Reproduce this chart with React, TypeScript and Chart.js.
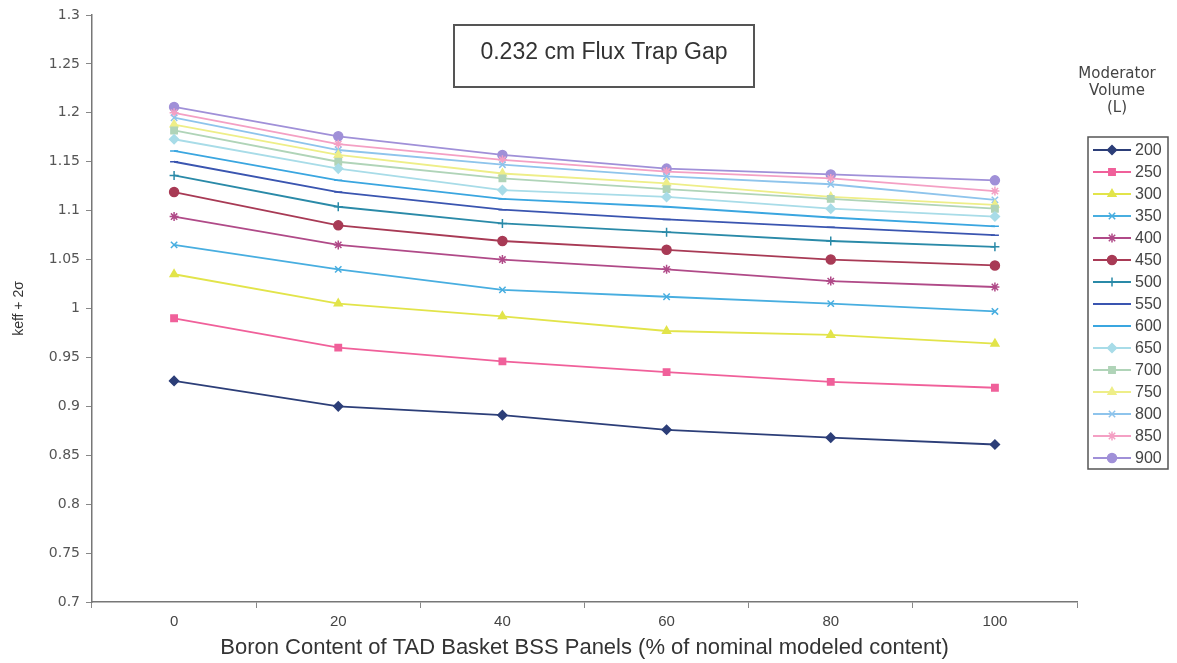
import React, { useEffect, useRef } from 'react';
import { Chart, registerables } from 'chart.js';
import { drawPoint } from 'chart.js/helpers';

Chart.register(...registerables);

// ---- data ----
const categories = ['0', '20', '40', '60', '80', '100'];
const seriesNames = ['200', '250', '300', '350', '400', '450', '500', '550', '600', '650', '700', '750', '800', '850', '900'];
const v200 = [0.926, 0.900, 0.891, 0.876, 0.868, 0.861];
const v250 = [0.990, 0.960, 0.946, 0.935, 0.925, 0.919];
const v300 = [1.035, 1.005, 0.992, 0.977, 0.973, 0.964];
const v350 = [1.065, 1.040, 1.019, 1.012, 1.005, 0.997];
const v400 = [1.094, 1.065, 1.050, 1.040, 1.028, 1.022];
const v450 = [1.119, 1.085, 1.069, 1.060, 1.050, 1.044];
const v500 = [1.136, 1.104, 1.087, 1.078, 1.069, 1.063];
const v550 = [1.150, 1.119, 1.101, 1.091, 1.083, 1.075];
const v600 = [1.161, 1.131, 1.112, 1.104, 1.093, 1.084];
const v650 = [1.173, 1.143, 1.121, 1.114, 1.102, 1.094];
const v700 = [1.182, 1.150, 1.133, 1.122, 1.112, 1.102];
const v750 = [1.188, 1.157, 1.138, 1.128, 1.114, 1.106];
const v800 = [1.195, 1.162, 1.147, 1.135, 1.127, 1.111];
const v850 = [1.200, 1.168, 1.152, 1.140, 1.133, 1.120];
const v900 = [1.206, 1.176, 1.157, 1.143, 1.137, 1.131];
const seriesValues = [v200, v250, v300, v350, v400, v450, v500, v550, v600, v650, v700, v750, v800, v850, v900];

const colors = ['#2c3e78', '#f0609a', '#e2e44a', '#48aee0', '#b04a88', '#a83a55', '#2a8aa8', '#3a55b0', '#3aa6e0', '#a8dce8', '#b0d4b8', '#eeee88', '#8ec4ec', '#f4a0c4', '#a090d8'];
const markers = ['rectRot', 'rect', 'triangle', 'crossRot', 'star', 'circle', 'cross', 'line', 'line', 'rectRot', 'rect', 'triangle', 'crossRot', 'star', 'circle'];

const chartTitle = '0.232 cm Flux Trap Gap';
const xTitle = 'Boron Content of TAD Basket BSS Panels (% of nominal modeled content)';
const yTitle = 'keff + 2σ';
const legendTitle = ['Moderator', 'Volume', '(L)'];

const FONT = "'Liberation Sans', Arial, sans-serif";
const WIDE = "'DejaVu Sans', 'Liberation Sans', sans-serif";

const overlayPlugin = {
  id: 'overlay',
  afterDraw(chart: any) {
    const ctx = chart.ctx as CanvasRenderingContext2D;
    ctx.save();
    // Title box
    ctx.fillStyle = '#ffffff';
    ctx.fillRect(454, 25, 300, 62);
    ctx.strokeStyle = '#555';
    ctx.lineWidth = 2;
    ctx.strokeRect(454, 25, 300, 62);
    ctx.fillStyle = '#333';
    ctx.font = `23px ${FONT}`;
    ctx.textAlign = 'center';
    ctx.textBaseline = 'middle';
    ctx.fillText(chartTitle, 604, 53);

    // Legend title
    ctx.fillStyle = '#444';
    ctx.font = `15px ${WIDE}`;
    legendTitle.forEach((t, i) => ctx.fillText(t, 1117, 74 + i * 17));

    // Legend box
    const bx = 1088, by = 137, bw = 80, bh = 332;
    ctx.strokeStyle = '#555';
    ctx.lineWidth = 1.5;
    ctx.strokeRect(bx, by, bw, bh);
    chart.data.datasets.forEach((ds: any, i: number) => {
      const y = 150 + i * 22;
      ctx.strokeStyle = ds.borderColor;
      ctx.fillStyle = ds.borderColor;
      ctx.lineWidth = 1.8;
      ctx.beginPath();
      ctx.moveTo(1093, y);
      ctx.lineTo(1131, y);
      ctx.stroke();
      ctx.lineWidth = 1.5;
      drawPoint(ctx, { pointStyle: ds.pointStyle, radius: ds.pointRadius, rotation: 0, borderWidth: 1.5 } as any, 1112, y);
      ctx.fillStyle = '#444';
      ctx.font = `16px ${FONT}`;
      ctx.textAlign = 'left';
      ctx.textBaseline = 'middle';
      ctx.fillText(ds.label, 1135, y + 1);
    });
    ctx.restore();
  },
};

export default function App() {
  const ref = useRef<HTMLCanvasElement | null>(null);
  useEffect(() => {
    if (!ref.current) return;
    const datasets = seriesNames.map((name, i) => ({
      label: name,
      data: seriesValues[i],
      borderColor: colors[i],
      backgroundColor: colors[i],
      pointBackgroundColor: colors[i],
      pointBorderColor: colors[i],
      pointStyle: markers[i],
      pointRadius: markers[i] === 'line' ? 4 : 4.5,
      pointBorderWidth: 1.5,
      borderWidth: 1.8,
      tension: 0,
      fill: false,
    }));
    const chart = new Chart(ref.current, {
      type: 'line',
      data: { labels: categories, datasets },
      options: {
        responsive: false,
        animation: false,
        layout: { padding: { left: 0, right: 100, top: 15, bottom: 0 } },
        plugins: { legend: { display: false }, title: { display: false }, tooltip: { enabled: false } },
        scales: {
          x: {
            type: 'category',
            offset: true,
            grid: { offset: true, drawOnChartArea: false, tickLength: 6, color: '#888' },
            border: { color: '#777', width: 1.5 },
            ticks: { color: '#444', font: { family: "'Liberation Sans Narrow', 'Liberation Sans', sans-serif", size: 15 }, padding: 5 },
            title: { display: true, text: xTitle, color: '#333', font: { family: FONT, size: 22 }, padding: { top: 2, bottom: 2 } },
            afterFit: (s: any) => { s.height = 61; },
          },
          y: {
            min: 0.7,
            max: 1.3,
            grid: { drawOnChartArea: false, tickLength: 6, color: '#888' },
            border: { color: '#777', width: 1.5 },
            ticks: {
              stepSize: 0.05,
              color: '#555',
              font: { family: WIDE, size: 14 },
              padding: 6,
              callback: (v: any) => String(Math.round(Number(v) * 100) / 100),
            },
            title: { display: true, text: yTitle, color: '#333', font: { family: FONT, size: 14 }, padding: { top: 11, bottom: 0 } },
            afterFit: (s: any) => { s.width = 92; },
          },
        },
      },
      plugins: [overlayPlugin],
    });
    return () => chart.destroy();
  }, []);
  return (
    <div style={{ position: 'fixed', left: 0, top: 0, width: 1177, height: 663, background: '#fff' }}>
      <canvas ref={ref} width={1177} height={663} />
    </div>
  );
}
